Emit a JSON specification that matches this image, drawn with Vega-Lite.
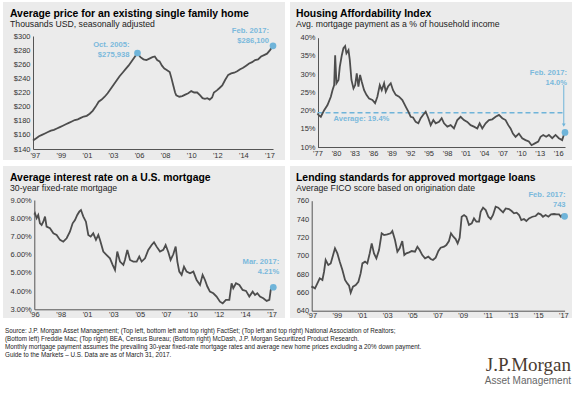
{
  "$schema": "https://vega.github.io/schema/vega-lite/v6.json",
  "background": "white",
  "padding": {"left": 3, "top": 2, "right": 4, "bottom": 0},
  "autosize": {"type": "pad"},
  "config": {
    "font": "Liberation Sans",
    "view": {"stroke": null},
    "axis": {"grid": false, "ticks": false, "domainColor": "#555555", "domainWidth": 1, "labelFont": "Liberation Sans", "labelFontSize": 7.5, "labelColor": "#333333", "labelFlush": false, "labelOverlap": false, "labelBound": false, "title": null},
    "title": {"font": "Liberation Sans", "fontSize": 10.4, "fontWeight": "bold", "color": "#000000", "subtitleFont": "Liberation Sans", "subtitleFontSize": 8.7, "subtitleColor": "#222222", "subtitlePadding": 1, "anchor": "start", "frame": "group"}
  },
  "datasets": {
    "price": [
      {"year":1997.0,"value":152},{"year":1997.25,"value":155},{"year":1997.5,"value":158},{"year":1997.75,"value":160},{"year":1998.0,"value":162},{"year":1998.25,"value":164},{"year":1998.5,"value":166},{"year":1998.75,"value":167},{"year":1999.0,"value":169},{"year":1999.25,"value":171},{"year":1999.5,"value":173},{"year":1999.75,"value":175},{"year":2000.0,"value":177},{"year":2000.25,"value":179},{"year":2000.5,"value":181},{"year":2000.75,"value":182},{"year":2001.0,"value":184},{"year":2001.25,"value":186},{"year":2001.5,"value":187},{"year":2001.75,"value":190},{"year":2002.0,"value":194},{"year":2002.25,"value":200},{"year":2002.5,"value":207},{"year":2002.75,"value":210},{"year":2003.0,"value":214},{"year":2003.25,"value":219},{"year":2003.5,"value":225},{"year":2003.75,"value":231},{"year":2004.0,"value":237},{"year":2004.25,"value":243},{"year":2004.5,"value":248},{"year":2004.75,"value":253},{"year":2005.0,"value":258},{"year":2005.25,"value":264},{"year":2005.5,"value":270},{"year":2005.75,"value":275.9},{"year":2006.0,"value":270},{"year":2006.25,"value":267},{"year":2006.5,"value":266},{"year":2006.75,"value":268},{"year":2007.0,"value":270},{"year":2007.2,"value":271},{"year":2007.4,"value":266},{"year":2007.6,"value":264},{"year":2007.8,"value":258},{"year":2008.0,"value":254},{"year":2008.2,"value":252},{"year":2008.45,"value":249},{"year":2008.6,"value":240},{"year":2008.75,"value":230},{"year":2008.9,"value":220},{"year":2009.0,"value":216},{"year":2009.25,"value":214},{"year":2009.5,"value":215},{"year":2009.75,"value":217},{"year":2010.0,"value":219},{"year":2010.25,"value":222},{"year":2010.5,"value":220},{"year":2010.75,"value":220},{"year":2011.0,"value":216},{"year":2011.2,"value":212},{"year":2011.4,"value":211},{"year":2011.6,"value":212},{"year":2011.8,"value":210},{"year":2012.0,"value":213},{"year":2012.15,"value":220},{"year":2012.4,"value":223},{"year":2012.6,"value":226},{"year":2012.85,"value":230},{"year":2013.1,"value":238},{"year":2013.35,"value":245},{"year":2013.6,"value":247},{"year":2013.85,"value":248},{"year":2014.1,"value":250},{"year":2014.35,"value":253},{"year":2014.6,"value":255},{"year":2014.85,"value":258},{"year":2015.1,"value":261},{"year":2015.35,"value":263},{"year":2015.6,"value":266},{"year":2015.85,"value":267},{"year":2016.1,"value":271},{"year":2016.35,"value":273},{"year":2016.6,"value":275},{"year":2016.85,"value":280},{"year":2017.1,"value":286.1}
    ],
    "afford": [
      {"year":1977.0,"value":19.2},{"year":1977.16,"value":18.8},{"year":1977.54,"value":18.3},{"year":1978.08,"value":20.1},{"year":1978.62,"value":21.5},{"year":1979.16,"value":23.8},{"year":1979.43,"value":25.6},{"year":1979.7,"value":27.0},{"year":1979.86,"value":35.2},{"year":1980.07,"value":27.5},{"year":1980.4,"value":28.4},{"year":1980.61,"value":32.0},{"year":1980.94,"value":35.2},{"year":1981.2,"value":37.1},{"year":1981.48,"value":37.7},{"year":1981.69,"value":35.7},{"year":1982.02,"value":36.6},{"year":1982.23,"value":33.9},{"year":1982.5,"value":28.4},{"year":1982.83,"value":26.1},{"year":1983.1,"value":27.0},{"year":1983.36,"value":30.2},{"year":1983.63,"value":26.6},{"year":1983.9,"value":29.8},{"year":1984.17,"value":27.9},{"year":1984.55,"value":25.6},{"year":1984.93,"value":24.3},{"year":1985.36,"value":23.3},{"year":1985.9,"value":22.9},{"year":1986.33,"value":22.0},{"year":1986.7,"value":23.8},{"year":1987.09,"value":27.0},{"year":1987.41,"value":25.6},{"year":1987.79,"value":27.5},{"year":1988.06,"value":25.2},{"year":1988.43,"value":26.6},{"year":1988.87,"value":27.5},{"year":1989.24,"value":25.6},{"year":1989.68,"value":24.3},{"year":1990.21,"value":23.8},{"year":1990.75,"value":22.9},{"year":1991.29,"value":21.1},{"year":1991.72,"value":19.7},{"year":1992.1,"value":18.3},{"year":1992.48,"value":18.1},{"year":1992.91,"value":16.9},{"year":1993.34,"value":16.5},{"year":1993.72,"value":17.9},{"year":1994.1,"value":18.8},{"year":1994.53,"value":19.7},{"year":1994.96,"value":17.9},{"year":1995.34,"value":16.0},{"year":1995.77,"value":17.4},{"year":1996.15,"value":16.5},{"year":1996.69,"value":16.9},{"year":1997.12,"value":17.9},{"year":1997.5,"value":16.5},{"year":1998.04,"value":15.6},{"year":1998.57,"value":16.0},{"year":1999.11,"value":15.1},{"year":1999.65,"value":17.4},{"year":2000.19,"value":18.3},{"year":2000.73,"value":17.4},{"year":2001.27,"value":16.9},{"year":2001.81,"value":16.0},{"year":2002.35,"value":15.6},{"year":2002.89,"value":15.1},{"year":2003.27,"value":16.5},{"year":2003.7,"value":15.1},{"year":2004.24,"value":16.5},{"year":2004.78,"value":17.4},{"year":2005.32,"value":17.6},{"year":2005.86,"value":18.3},{"year":2006.4,"value":18.8},{"year":2006.94,"value":17.9},{"year":2007.47,"value":17.4},{"year":2007.91,"value":16.0},{"year":2008.28,"value":15.1},{"year":2008.66,"value":13.7},{"year":2009.09,"value":12.8},{"year":2009.63,"value":13.7},{"year":2010.17,"value":12.4},{"year":2010.71,"value":11.9},{"year":2011.24,"value":11.5},{"year":2011.68,"value":10.5},{"year":2012.22,"value":11.0},{"year":2012.76,"value":11.5},{"year":2013.14,"value":12.8},{"year":2013.57,"value":13.3},{"year":2014.05,"value":12.8},{"year":2014.49,"value":13.3},{"year":2015.03,"value":12.4},{"year":2015.57,"value":13.3},{"year":2016.1,"value":12.4},{"year":2016.64,"value":11.9},{"year":2016.9,"value":13.3},{"year":2017.1,"value":14.0}
    ],
    "rate": [
      {"year":1996.0,"value":8.2},{"year":1996.06,"value":8.27},{"year":1996.21,"value":8.0},{"year":1996.35,"value":8.18},{"year":1996.5,"value":7.72},{"year":1996.65,"value":7.63},{"year":1996.8,"value":7.81},{"year":1996.95,"value":8.09},{"year":1997.09,"value":7.54},{"year":1997.39,"value":7.45},{"year":1997.69,"value":7.17},{"year":1997.98,"value":7.08},{"year":1998.28,"value":6.81},{"year":1998.57,"value":6.71},{"year":1998.87,"value":6.9},{"year":1999.16,"value":7.26},{"year":1999.4,"value":7.72},{"year":1999.61,"value":7.9},{"year":1999.81,"value":8.18},{"year":1999.99,"value":8.36},{"year":2000.14,"value":8.45},{"year":2000.35,"value":8.09},{"year":2000.58,"value":7.81},{"year":2000.79,"value":7.08},{"year":2001.0,"value":6.99},{"year":2001.23,"value":7.17},{"year":2001.47,"value":6.81},{"year":2001.68,"value":7.08},{"year":2001.83,"value":6.81},{"year":2002.12,"value":6.17},{"year":2002.42,"value":5.98},{"year":2002.71,"value":5.8},{"year":2002.95,"value":5.44},{"year":2003.16,"value":5.16},{"year":2003.36,"value":6.17},{"year":2003.6,"value":5.62},{"year":2003.9,"value":5.44},{"year":2004.04,"value":5.71},{"year":2004.25,"value":6.26},{"year":2004.49,"value":5.71},{"year":2004.78,"value":5.62},{"year":2005.08,"value":5.62},{"year":2005.31,"value":5.9},{"year":2005.52,"value":5.62},{"year":2005.82,"value":5.8},{"year":2006.11,"value":6.26},{"year":2006.41,"value":6.53},{"year":2006.62,"value":6.68},{"year":2006.85,"value":6.44},{"year":2007.15,"value":6.17},{"year":2007.44,"value":6.26},{"year":2007.65,"value":6.53},{"year":2007.89,"value":6.13},{"year":2008.09,"value":5.71},{"year":2008.33,"value":6.02},{"year":2008.54,"value":6.44},{"year":2008.69,"value":5.62},{"year":2008.86,"value":5.07},{"year":2009.07,"value":4.89},{"year":2009.28,"value":5.34},{"year":2009.51,"value":5.07},{"year":2009.81,"value":4.98},{"year":2010.11,"value":5.07},{"year":2010.4,"value":4.61},{"year":2010.7,"value":4.34},{"year":2010.93,"value":4.89},{"year":2011.14,"value":4.61},{"year":2011.35,"value":4.25},{"year":2011.58,"value":3.97},{"year":2011.88,"value":3.88},{"year":2012.17,"value":3.7},{"year":2012.47,"value":3.42},{"year":2012.71,"value":3.33},{"year":2013.0,"value":3.52},{"year":2013.3,"value":3.52},{"year":2013.5,"value":4.43},{"year":2013.65,"value":4.16},{"year":2013.89,"value":4.43},{"year":2014.19,"value":4.34},{"year":2014.48,"value":4.06},{"year":2014.78,"value":4.01},{"year":2015.07,"value":3.7},{"year":2015.37,"value":3.97},{"year":2015.58,"value":3.79},{"year":2015.78,"value":3.88},{"year":2016.02,"value":3.7},{"year":2016.31,"value":3.61},{"year":2016.61,"value":3.46},{"year":2016.85,"value":3.52},{"year":2016.97,"value":4.06},{"year":2017.08,"value":4.19},{"year":2017.2,"value":4.21}
    ],
    "fico": [
      {"year":1997.0,"value":665},{"year":1997.05,"value":666.2},{"year":1997.26,"value":664.4},{"year":1997.45,"value":669.8},{"year":1997.64,"value":675.3},{"year":1997.85,"value":673.5},{"year":1997.98,"value":682.5},{"year":1998.11,"value":695.3},{"year":1998.32,"value":689.8},{"year":1998.51,"value":691.6},{"year":1998.7,"value":700.7},{"year":1998.85,"value":708.0},{"year":1999.04,"value":702.5},{"year":1999.23,"value":693.5},{"year":1999.44,"value":684.4},{"year":1999.65,"value":673.5},{"year":1999.83,"value":669.8},{"year":1999.97,"value":667.3},{"year":2000.1,"value":659.6},{"year":2000.28,"value":666.2},{"year":2000.5,"value":668.0},{"year":2000.71,"value":671.6},{"year":2000.89,"value":680.7},{"year":2001.03,"value":691.6},{"year":2001.24,"value":693.5},{"year":2001.42,"value":691.6},{"year":2001.61,"value":702.5},{"year":2001.77,"value":713.5},{"year":2001.95,"value":702.5},{"year":2002.14,"value":697.1},{"year":2002.35,"value":706.2},{"year":2002.56,"value":724.4},{"year":2002.75,"value":722.5},{"year":2003.01,"value":723.3},{"year":2003.28,"value":724.4},{"year":2003.41,"value":726.9},{"year":2003.62,"value":717.1},{"year":2003.81,"value":704.4},{"year":2003.99,"value":708.0},{"year":2004.2,"value":716.0},{"year":2004.36,"value":700.7},{"year":2004.52,"value":702.5},{"year":2004.74,"value":703.6},{"year":2004.95,"value":705.1},{"year":2005.21,"value":704.4},{"year":2005.4,"value":709.8},{"year":2005.58,"value":706.2},{"year":2005.79,"value":700.7},{"year":2006.01,"value":697.1},{"year":2006.27,"value":698.9},{"year":2006.46,"value":696.4},{"year":2006.64,"value":695.3},{"year":2006.85,"value":697.8},{"year":2007.07,"value":705.1},{"year":2007.25,"value":708.7},{"year":2007.52,"value":709.8},{"year":2007.7,"value":711.6},{"year":2007.91,"value":716.0},{"year":2008.07,"value":724.4},{"year":2008.26,"value":720.7},{"year":2008.44,"value":718.2},{"year":2008.6,"value":713.5},{"year":2008.76,"value":719.6},{"year":2008.92,"value":742.5},{"year":2009.11,"value":744.4},{"year":2009.29,"value":742.5},{"year":2009.5,"value":733.5},{"year":2009.72,"value":735.3},{"year":2009.9,"value":740.7},{"year":2010.09,"value":737.1},{"year":2010.3,"value":737.1},{"year":2010.43,"value":748.0},{"year":2010.62,"value":752.4},{"year":2010.83,"value":749.8},{"year":2011.04,"value":742.5},{"year":2011.23,"value":740.0},{"year":2011.41,"value":744.4},{"year":2011.62,"value":753.5},{"year":2011.83,"value":752.4},{"year":2012.02,"value":749.8},{"year":2012.21,"value":747.3},{"year":2012.42,"value":751.6},{"year":2012.68,"value":750.9},{"year":2012.89,"value":748.7},{"year":2013.08,"value":746.2},{"year":2013.29,"value":746.9},{"year":2013.48,"value":744.4},{"year":2013.66,"value":738.9},{"year":2013.87,"value":740.0},{"year":2014.06,"value":737.8},{"year":2014.27,"value":740.7},{"year":2014.54,"value":742.5},{"year":2014.8,"value":743.3},{"year":2015.01,"value":746.2},{"year":2015.2,"value":745.1},{"year":2015.38,"value":742.5},{"year":2015.59,"value":744.4},{"year":2015.81,"value":742.5},{"year":2016.02,"value":745.1},{"year":2016.26,"value":745.5},{"year":2016.47,"value":745.1},{"year":2016.66,"value":745.1},{"year":2016.81,"value":742.5},{"year":2016.92,"value":744.4},{"year":2017.1,"value":743}
    ]
  },
  "vconcat": [
    {
      "vconcat": [
        {
          "hconcat": [
            {
              "width": 282, "height": 158,
              "view": {"fill": "#ebebeb", "stroke": null},
              "title": {"text": "Average price for an existing single family home", "subtitle": "Thousands USD, seasonally adjusted", "offset": -27, "dx": 7},
              "layer": [
                {
                  "data": {"name": "price"},
                  "mark": {"type": "line", "color": "#4d4d4d", "strokeWidth": 1.8},
                  "encoding": {
                    "x": {"field": "year", "type": "quantitative", "scale": {"domain": [1997, 2017.1], "range": [30, 270], "nice": false, "zero": false},
                          "axis": {"orient": "bottom", "offset": -11, "labelPadding": 2, "labelOverlap": false, "tickCount": 100, "values": [1997.15, 1999.333, 2001.517, 2003.7, 2005.883, 2008.067, 2010.25, 2012.433, 2014.617, 2016.8],
                                   "labelExpr": "\"'\" + ['97','99','01','03','06','08','10','12','14','17'][round((datum.value - 1997.15) / 2.1833)]"}},
                    "y": {"field": "value", "type": "quantitative", "scale": {"domain": [140, 300], "range": [147, 34], "nice": false, "zero": false},
                          "axis": {"orient": "left", "offset": -30, "labelPadding": 3, "labelOverlap": false, "tickCount": 100, "values": [140, 160, 180, 200, 220, 240, 260, 280, 300], "labelExpr": "'$' + datum.value"}}
                  }
                },
                {
                  "data": {"values": [{"year": 2005.75, "value": 275.938, "label": "Oct. 2005:\n$275,938"}, {"year": 2017.1, "value": 286.1, "label": "Feb. 2017:\n$286,100"}]},
                  "mark": {"type": "point", "filled": true, "shape": "circle", "size": 45, "color": "#6fb4d9", "opacity": 1},
                  "encoding": {"x": {"field": "year", "type": "quantitative"}, "y": {"field": "value", "type": "quantitative"}}
                },
                {
                  "data": {"values": [{"year": 2005.75, "value": 275.938, "label": "Oct. 2005:\n$275,938"}]},
                  "mark": {"type": "text", "align": "right", "baseline": "alphabetic", "dx": -8, "dy": -6, "lineBreak": "\n", "lineHeight": 10, "fontWeight": "bold", "fontSize": 7.6, "color": "#7ab9dc"},
                  "encoding": {"x": {"field": "year", "type": "quantitative"}, "y": {"field": "value", "type": "quantitative"}, "text": {"field": "label"}}
                },
                {
                  "data": {"values": [{"year": 2017.1, "value": 286.1, "label": "Feb. 2017:\n$286,100"}]},
                  "mark": {"type": "text", "align": "right", "baseline": "alphabetic", "dx": -4, "dy": -13, "lineBreak": "\n", "lineHeight": 10, "fontWeight": "bold", "fontSize": 7.6, "color": "#7ab9dc"},
                  "encoding": {"x": {"field": "year", "type": "quantitative"}, "y": {"field": "value", "type": "quantitative"}, "text": {"field": "label"}}
                }
              ]
            },
            {
              "width": 282, "height": 158,
              "view": {"fill": "#ebebeb", "stroke": null},
              "title": {"text": "Housing Affordability Index", "subtitle": "Avg. mortgage payment as a % of household income", "offset": -27, "dx": 6},
              "layer": [
                {
                  "data": {"values": [{"avg": 19.4, "start": 1977, "end": 2016.85}]},
                  "mark": {"type": "rule", "color": "#6fb4d9", "strokeWidth": 1.5, "strokeDash": [5, 3]},
                  "encoding": {"x": {"field": "start", "type": "quantitative"}, "x2": {"field": "end"}, "y": {"field": "avg", "type": "quantitative"}}
                },
                {
                  "data": {"name": "afford"},
                  "mark": {"type": "line", "color": "#4d4d4d", "strokeWidth": 1.8},
                  "encoding": {
                    "x": {"field": "year", "type": "quantitative", "scale": {"domain": [1977, 2017.1], "range": [27.5, 275], "nice": false, "zero": false},
                          "axis": {"orient": "bottom", "offset": -13, "labelPadding": 2, "labelOverlap": false, "tickCount": 100, "values": [1977, 1980, 1983, 1986, 1989, 1992, 1995, 1998, 2001, 2004, 2007, 2010, 2013, 2016],
                                   "labelExpr": "\"'\" + substring(toString(datum.value), 2, 4)"}},
                    "y": {"field": "value", "type": "quantitative", "scale": {"domain": [10, 40], "range": [145, 35.7], "nice": false, "zero": false},
                          "axis": {"orient": "left", "offset": -28, "labelPadding": 3, "labelOverlap": false, "tickCount": 100, "values": [10, 15, 20, 25, 30, 35, 40], "labelExpr": "datum.value + '%'"}}
                  }
                },
                {
                  "data": {"values": [{"avg": 19.4, "start": 1977, "label": "Average: 19.4%"}]},
                  "mark": {"type": "text", "align": "left", "baseline": "alphabetic", "dx": 16, "dy": 8, "fontWeight": "bold", "fontSize": 7.6, "color": "#7ab9dc"},
                  "encoding": {"x": {"field": "start", "type": "quantitative"}, "y": {"field": "avg", "type": "quantitative"}, "text": {"field": "label"}}
                },
                {
                  "data": {"values": [{"year": 2016.9, "top": 27.0, "bottom": 16.0}]},
                  "mark": {"type": "rule", "color": "#6fb4d9", "strokeWidth": 1},
                  "encoding": {"x": {"field": "year", "type": "quantitative"}, "y": {"field": "top", "type": "quantitative"}, "y2": {"field": "bottom"}}
                },
                {
                  "data": {"values": [{"year": 2016.9, "bottom": 16.0}]},
                  "mark": {"type": "point", "shape": "triangle-down", "filled": true, "size": 14, "color": "#6fb4d9", "opacity": 1},
                  "encoding": {"x": {"field": "year", "type": "quantitative"}, "y": {"field": "bottom", "type": "quantitative"}}
                },
                {
                  "data": {"values": [{"year": 2017.1, "value": 14.0, "label": "Feb. 2017:\n14.0%"}]},
                  "layer": [
                    {"mark": {"type": "point", "filled": true, "shape": "circle", "size": 45, "color": "#6fb4d9", "opacity": 1},
                     "encoding": {"x": {"field": "year", "type": "quantitative"}, "y": {"field": "value", "type": "quantitative"}}},
                    {"mark": {"type": "text", "align": "right", "baseline": "alphabetic", "dx": 2, "dy": -57, "lineBreak": "\n", "lineHeight": 10, "fontWeight": "bold", "fontSize": 7.6, "color": "#7ab9dc"},
                     "encoding": {"x": {"field": "year", "type": "quantitative"}, "y": {"field": "value", "type": "quantitative"}, "text": {"field": "label"}}}
                  ]
                }
              ]
            }
          ],
          "spacing": 5
        },
        {
          "hconcat": [
            {
              "width": 282, "height": 152,
              "view": {"fill": "#ebebeb", "stroke": null},
              "title": {"text": "Average interest rate on a U.S. mortgage", "subtitle": "30-year fixed-rate mortgage", "offset": -27, "dx": 7},
              "layer": [
                {
                  "data": {"name": "rate"},
                  "mark": {"type": "line", "color": "#4d4d4d", "strokeWidth": 1.8},
                  "encoding": {
                    "x": {"field": "year", "type": "quantitative", "scale": {"domain": [1996, 2017.2], "range": [31.3, 270.3], "nice": false, "zero": false},
                          "axis": {"orient": "bottom", "offset": -8.7, "labelPadding": 1, "labelOverlap": false, "tickCount": 100, "values": [1996, 1998.339, 2000.678, 2003.017, 2005.356, 2007.694, 2010.033, 2012.372, 2014.711, 2017.05],
                                   "labelExpr": "\"'\" + ['96','98','01','03','05','07','10','12','14','17'][round((datum.value - 1996) / 2.339)]"}},
                    "y": {"field": "value", "type": "quantitative", "scale": {"domain": [3, 9], "range": [143.3, 34], "nice": false, "zero": false},
                          "axis": {"orient": "left", "offset": -31.3, "labelPadding": 3, "labelOverlap": false, "tickCount": 100, "values": [3, 4, 5, 6, 7, 8, 9], "labelExpr": "format(datum.value, '.2f') + '%'"}}
                  }
                },
                {
                  "data": {"values": [{"year": 2017.2, "value": 4.21, "label": "Mar. 2017:\n4.21%"}]},
                  "layer": [
                    {"mark": {"type": "point", "filled": true, "shape": "circle", "size": 45, "color": "#6fb4d9", "opacity": 1},
                     "encoding": {"x": {"field": "year", "type": "quantitative"}, "y": {"field": "value", "type": "quantitative"}}},
                    {"mark": {"type": "text", "align": "right", "baseline": "alphabetic", "dx": 6, "dy": -23, "lineBreak": "\n", "lineHeight": 10, "fontWeight": "bold", "fontSize": 7.6, "color": "#7ab9dc"},
                     "encoding": {"x": {"field": "year", "type": "quantitative"}, "y": {"field": "value", "type": "quantitative"}, "text": {"field": "label"}}}
                  ]
                }
              ]
            },
            {
              "width": 282, "height": 152,
              "view": {"fill": "#ebebeb", "stroke": null},
              "title": {"text": "Lending standards for approved mortgage loans", "subtitle": "Average FICO score based on origination date", "offset": -27, "dx": 6},
              "layer": [
                {
                  "data": {"name": "fico"},
                  "mark": {"type": "line", "color": "#4d4d4d", "strokeWidth": 1.8},
                  "encoding": {
                    "x": {"field": "year", "type": "quantitative", "scale": {"domain": [1997, 2017.1], "range": [21.7, 274.6], "nice": false, "zero": false},
                          "axis": {"orient": "bottom", "offset": -7.3, "labelPadding": 1, "labelOverlap": false, "tickCount": 100, "values": [1997, 1999, 2001, 2003, 2005, 2007, 2009, 2011, 2013, 2015, 2017],
                                   "labelExpr": "\"'\" + substring(toString(datum.value), 2, 4)"}},
                    "y": {"field": "value", "type": "quantitative", "scale": {"domain": [640, 760], "range": [144.7, 34.7], "nice": false, "zero": false},
                          "axis": {"orient": "left", "offset": -21.7, "labelPadding": 3, "labelOverlap": false, "tickCount": 100, "values": [640, 660, 680, 700, 720, 740, 760]}}
                  }
                },
                {
                  "data": {"values": [{"year": 2017.1, "value": 743, "label": "Feb. 2017:\n743"}]},
                  "layer": [
                    {"mark": {"type": "point", "filled": true, "shape": "circle", "size": 45, "color": "#6fb4d9", "opacity": 1},
                     "encoding": {"x": {"field": "year", "type": "quantitative"}, "y": {"field": "value", "type": "quantitative"}}},
                    {"mark": {"type": "text", "align": "right", "baseline": "alphabetic", "dx": 1, "dy": -19, "lineBreak": "\n", "lineHeight": 10, "fontWeight": "bold", "fontSize": 7.6, "color": "#7ab9dc"},
                     "encoding": {"x": {"field": "year", "type": "quantitative"}, "y": {"field": "value", "type": "quantitative"}, "text": {"field": "label"}}}
                  ]
                }
              ]
            }
          ],
          "spacing": 5
        }
      ],
      "spacing": 6
    },
    {
      "hconcat": [
        {
          "width": 470, "height": 1,
          "view": {"stroke": null},
          "title": {
            "text": [
              "Source: J.P. Morgan Asset Management; (Top left, bottom left and top right) FactSet; (Top left  and top right) National Association of Realtors;",
              "(Bottom left) Freddie Mac; (Top right) BEA, Census Bureau; (Bottom right) McDash, J.P. Morgan Securitized Product Research.",
              "Monthly mortgage payment assumes the prevailing 30-year fixed-rate mortgage rates and average new home prices excluding a 20% down payment.",
              "Guide to the Markets – U.S. Data are as of March 31, 2017."
            ],
            "fontSize": 6.3, "fontWeight": "normal", "lineHeight": 8, "color": "#222222", "offset": 0, "dx": 2
          },
          "data": {"values": [{"t": ""}]},
          "mark": {"type": "text", "opacity": 0},
          "encoding": {"text": {"field": "t"}}
        },
        {
          "width": 97, "height": 1,
          "view": {"stroke": null},
          "title": {
            "text": "J.P.Morgan", "subtitle": "Asset Management", "orient": "bottom", "anchor": "end",
            "font": "Liberation Serif", "fontSize": 19, "fontWeight": "normal", "color": "#4a3b31",
            "subtitleFont": "Liberation Sans", "subtitleFontSize": 10, "subtitleColor": "#666666", "subtitlePadding": 1,
            "offset": -14, "dx": -4
          },
          "data": {"values": [{"t": ""}]},
          "mark": {"type": "text", "opacity": 0},
          "encoding": {"text": {"field": "t"}}
        }
      ],
      "spacing": 5
    }
  ],
  "spacing": 8
}
